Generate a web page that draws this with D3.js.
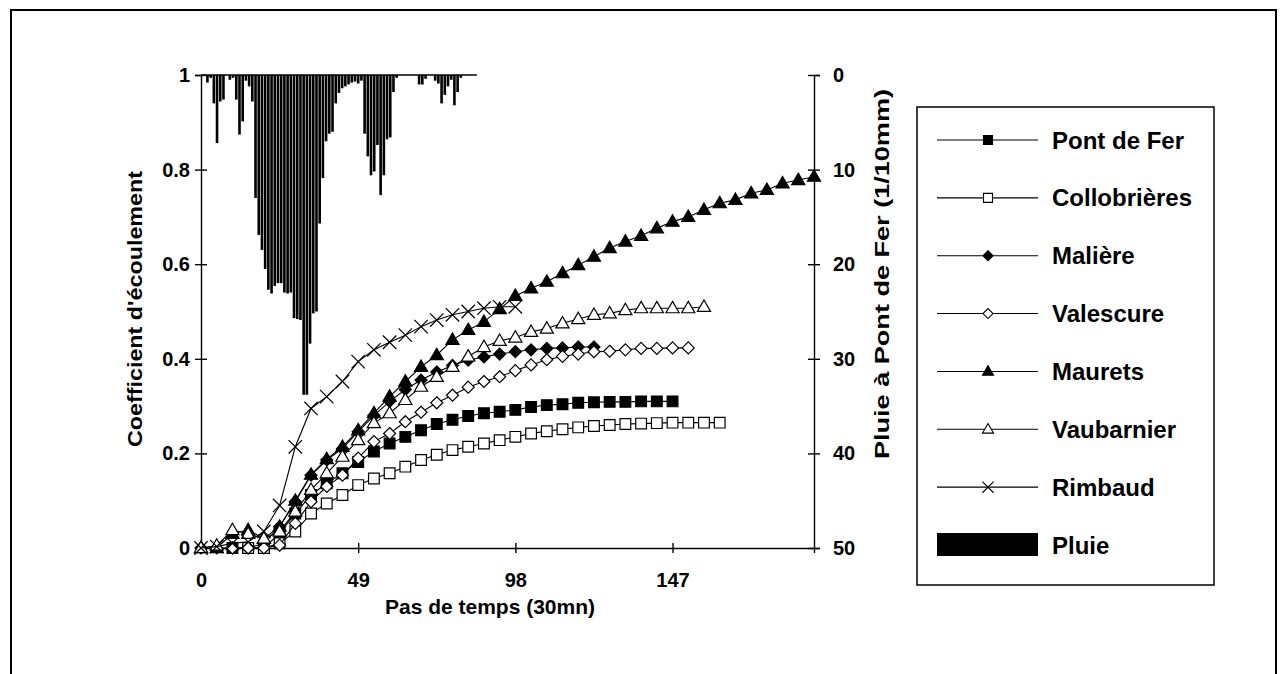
<!DOCTYPE html>
<html>
<head>
<meta charset="utf-8">
<script src="https://d3js.org/d3.v7.min.js"></script>
<style>
  body { margin: 0; background: #fff; }
  text { font-family: "Liberation Sans", Arial, Helvetica, sans-serif; fill: #000; font-weight: bold; }
</style>
</head>
<body>
<svg id="chart"></svg>
<script>
// Parameters
const pointStep = 4.9          // one marker every 4.9 time steps
const xTicks = [0, 49, 98, 147]
const yLeftTicks = [0, 0.2, 0.4, 0.6, 0.8, 1]
const yRightTicks = [0, 10, 20, 30, 40, 50]

// Coefficient d'écoulement, one value per marker (null = no value yet)
const pontDeFer = [null, null, 0, 0, 0, 0.031, 0.073, 0.112, 0.137, 0.158, 0.182, 0.204, 0.221, 0.235, 0.249, 0.262, 0.271, 0.279, 0.285, 0.288, 0.292, 0.298, 0.302, 0.304, 0.307, 0.308, 0.309, 0.309, 0.31, 0.31, 0.31]
const collobrieres = [null, null, null, 0, 0, 0.01, 0.035, 0.073, 0.094, 0.112, 0.133, 0.147, 0.158, 0.172, 0.186, 0.197, 0.207, 0.214, 0.221, 0.228, 0.235, 0.242, 0.247, 0.251, 0.255, 0.258, 0.26, 0.262, 0.263, 0.264, 0.265, 0.265, 0.265, 0.265]
const maliere = [0, 0, 0, 0, 0.01, 0.045, 0.098, 0.154, 0.186, 0.21, 0.246, 0.28, 0.31, 0.335, 0.355, 0.372, 0.386, 0.397, 0.404, 0.41, 0.415, 0.419, 0.422, 0.423, 0.425, 0.425]
const valescure = [null, null, 0, 0, 0, 0.006, 0.052, 0.098, 0.13, 0.154, 0.19, 0.225, 0.242, 0.267, 0.287, 0.307, 0.323, 0.34, 0.352, 0.362, 0.375, 0.387, 0.398, 0.405, 0.41, 0.415, 0.416, 0.419, 0.422, 0.422, 0.423, 0.423]
const maurets = [0, 0, 0.03, 0.038, 0.02, 0.045, 0.1, 0.155, 0.188, 0.214, 0.249, 0.285, 0.32, 0.352, 0.383, 0.408, 0.44, 0.461, 0.478, 0.505, 0.533, 0.549, 0.563, 0.581, 0.598, 0.616, 0.634, 0.648, 0.66, 0.676, 0.69, 0.7, 0.715, 0.729, 0.736, 0.75, 0.757, 0.771, 0.778, 0.785]
const vaubarnier = [0, 0.005, 0.038, 0.03, 0.02, 0.035, 0.077, 0.123, 0.158, 0.193, 0.228, 0.264, 0.285, 0.313, 0.341, 0.362, 0.383, 0.405, 0.425, 0.438, 0.445, 0.457, 0.464, 0.475, 0.484, 0.493, 0.496, 0.503, 0.507, 0.507, 0.507, 0.507, 0.51]
const rimbaud = [0, 0.003, 0.01, 0.013, 0.035, 0.09, 0.214, 0.295, 0.32, 0.352, 0.394, 0.419, 0.435, 0.45, 0.468, 0.482, 0.493, 0.5, 0.507, 0.51, 0.51]

// Pluie à Pont de Fer (1/10mm), one value per time step
const pluie = [0, 0, 0.8, 0.3, 3.0, 7.2, 2.8, 2.6, 0, 0.5, 0.3, 2.6, 6.3, 4.9, 0.6, 1.2, 2.8, 13.0, 16.9, 18.5,
  20.5, 22.7, 23.1, 22.3, 22.0, 22.0, 23.0, 23.1, 23.0, 25.7, 25.8, 25.9, 33.8, 33.8, 28.4, 25.2, 25.0, 15.7, 10.9, 7.0,
  6.2, 6.0, 3.0, 1.9, 1.4, 1.2, 1.0, 0.8, 0.7, 0.9, 0.6, 6.2, 8.6, 10.6, 10.2, 7.4, 12.7, 10.6, 6.8, 6.6,
  1.8, 0.3, 0, 0, 0, 0, 0, 0, 1.0, 1.0, 0.4, 0, 0, 0.6, 0.9, 3.0, 2.1, 1.2, 0.5, 3.2,
  1.8, 0.3, 0, 0, 0, 0, 0]

const seriesNames = ["Pont de Fer", "Collobrières", "Malière", "Valescure", "Maurets", "Vaubarnier", "Rimbaud"]
const seriesValues = [pontDeFer, collobrieres, maliere, valescure, maurets, vaubarnier, rimbaud]
const seriesSymbols = ["square", "square", "diamond", "diamond", "triangle", "triangle", "times"]
const seriesFilled = [true, false, true, false, true, false, false]

// Layout
const W = 1288, H = 674
const svg = d3.select("#chart").attr("width", W).attr("height", H)

svg.append("rect")
  .attr("x", 11).attr("y", 10).attr("width", 1265).attr("height", 700)
  .attr("fill", "none").attr("stroke", "#000").attr("stroke-width", 2)

const x = d3.scaleLinear().domain([0, 39 * pointStep]).range([201, 814])
const yL = d3.scaleLinear().domain([0, 1]).range([548, 75])
const yR = d3.scaleLinear().domain([0, 50]).range([75, 548])

// Rain bars hanging from the top
const barW = (x(1) - x(0)) - 0.6
svg.append("line")
  .attr("x1", x(0)).attr("x2", x(pluie.length - 1))
  .attr("y1", yR(0)).attr("y2", yR(0))
  .attr("stroke", "#000").attr("stroke-width", 1.5)
svg.append("g")
  .selectAll("rect")
  .data(pluie)
  .join("rect")
  .attr("x", (d, i) => x(i) - barW / 2)
  .attr("y", yR(0))
  .attr("width", barW)
  .attr("height", d => yR(d) - yR(0))
  .attr("fill", "#000")

// Axes, ticks crossing the axis line
function crossTicks(g, dir) {
  g.select(".domain").attr("stroke-width", 1.4)
  g.selectAll(".tick line").attr("stroke-width", 1.4)
  if (dir === "v") g.selectAll(".tick line").attr("x1", 6).attr("x2", -6)
  else g.selectAll(".tick line").attr("y1", -5).attr("y2", 5)
  g.selectAll(".tick text").style("font-size", "20px").attr("fill", "#000")
}

svg.append("g")
  .attr("transform", "translate(" + x.range()[0] + ",0)")
  .call(d3.axisLeft(yL).tickValues(yLeftTicks).tickSizeOuter(0).tickSize(6).tickFormat(d => d))
  .call(g => crossTicks(g, "v"))
  .call(g => g.selectAll(".tick text").attr("x", -11))

svg.append("g")
  .attr("transform", "translate(" + x.range()[1] + ",0)")
  .call(d3.axisRight(yR).tickValues(yRightTicks).tickSizeOuter(0).tickSize(6))
  .call(g => crossTicks(g, "v"))
  .call(g => g.selectAll(".tick text").attr("x", 19))

svg.append("g")
  .attr("transform", "translate(0," + yL(0) + ")")
  .call(d3.axisBottom(x).tickValues(xTicks).tickSizeOuter(0).tickSize(5))
  .call(g => crossTicks(g, "h"))
  .call(g => g.selectAll(".tick text").attr("y", 25))

// Axis titles
svg.append("text")
  .attr("transform", "translate(490,614)")
  .attr("text-anchor", "middle")
  .style("font-size", "21px")
  .text("Pas de temps (30mn)")
svg.append("text")
  .attr("transform", "translate(142,309) rotate(-90)")
  .attr("text-anchor", "middle")
  .attr("textLength", 276).attr("lengthAdjust", "spacingAndGlyphs")
  .style("font-size", "21px")
  .text("Coefficient d'écoulement")
svg.append("text")
  .attr("transform", "translate(889,274) rotate(-90)")
  .attr("text-anchor", "middle")
  .attr("textLength", 370).attr("lengthAdjust", "spacingAndGlyphs")
  .style("font-size", "21px")
  .text("Pluie à Pont de Fer (1/10mm)")

// Marker shapes
const symDiamond = {
  draw(ctx, size) {
    const r = Math.sqrt(size / 2)
    ctx.moveTo(0, -r); ctx.lineTo(r, 0); ctx.lineTo(0, r); ctx.lineTo(-r, 0); ctx.closePath()
  }
}
const symTriangle = {
  draw(ctx, size) {
    const s = Math.sqrt(size * 4 / Math.sqrt(3))
    const h = s * Math.sqrt(3) / 2
    ctx.moveTo(0, -h * 0.6); ctx.lineTo(s / 2, h * 0.4); ctx.lineTo(-s / 2, h * 0.4); ctx.closePath()
  }
}
const symTimes = {
  draw(ctx, size) {
    const r = Math.sqrt(size) / 2
    ctx.moveTo(-r, -r); ctx.lineTo(r, r); ctx.moveTo(r, -r); ctx.lineTo(-r, r)
  }
}
const symbolType = { square: d3.symbolSquare, diamond: symDiamond, triangle: symTriangle, times: symTimes }
const symbolSize = { square: 115, diamond: 72, triangle: 75, times: 180 }

const line = d3.line()
  .defined(d => d != null)
  .x((d, i) => x(i * pointStep))
  .y(d => yL(d))

seriesValues.forEach((vals, s) => {
  const g = svg.append("g")
  g.append("path")
    .datum(vals)
    .attr("d", line)
    .attr("fill", "none")
    .attr("stroke", "#000")
    .attr("stroke-width", 1.1)
  const shape = seriesSymbols[s]
  g.selectAll("path.mk")
    .data(vals.map((v, i) => ({ v, i })).filter(d => d.v != null))
    .join("path")
    .attr("class", "mk")
    .attr("transform", d => "translate(" + x(d.i * pointStep) + "," + yL(d.v) + ")")
    .attr("d", d3.symbol(symbolType[shape], symbolSize[shape]))
    .attr("fill", shape === "times" ? "none" : (seriesFilled[s] ? "#000" : "#fff"))
    .attr("stroke", "#000")
    .attr("stroke-width", 1.2)
})

// Legend
const legend = svg.append("g")
legend.append("rect")
  .attr("x", 917).attr("y", 107).attr("width", 297).attr("height", 478)
  .attr("fill", "#fff").attr("stroke", "#000").attr("stroke-width", 1.5)

const legendY = d3.scalePoint().domain(seriesNames.concat(["Pluie"])).range([140, 545])
seriesNames.forEach((name, s) => {
  const yy = legendY(name)
  const shape = seriesSymbols[s]
  legend.append("line")
    .attr("x1", 937).attr("x2", 1038).attr("y1", yy).attr("y2", yy)
    .attr("stroke", "#000").attr("stroke-width", 1.1)
  legend.append("path")
    .attr("transform", "translate(988," + yy + ")")
    .attr("d", d3.symbol(symbolType[shape], symbolSize[shape] * 0.7))
    .attr("fill", shape === "times" ? "none" : (seriesFilled[s] ? "#000" : "#fff"))
    .attr("stroke", "#000").attr("stroke-width", 1.1)
  legend.append("text")
    .attr("x", 1052).attr("y", yy).attr("dy", "0.36em")
    .style("font-size", "24px")
    .text(name)
})
legend.append("rect")
  .attr("x", 937).attr("y", legendY("Pluie") - 12).attr("width", 101).attr("height", 23)
  .attr("fill", "#000")
legend.append("text")
  .attr("x", 1052).attr("y", legendY("Pluie")).attr("dy", "0.36em")
  .style("font-size", "24px")
  .text("Pluie")
</script>
</body>
</html>
